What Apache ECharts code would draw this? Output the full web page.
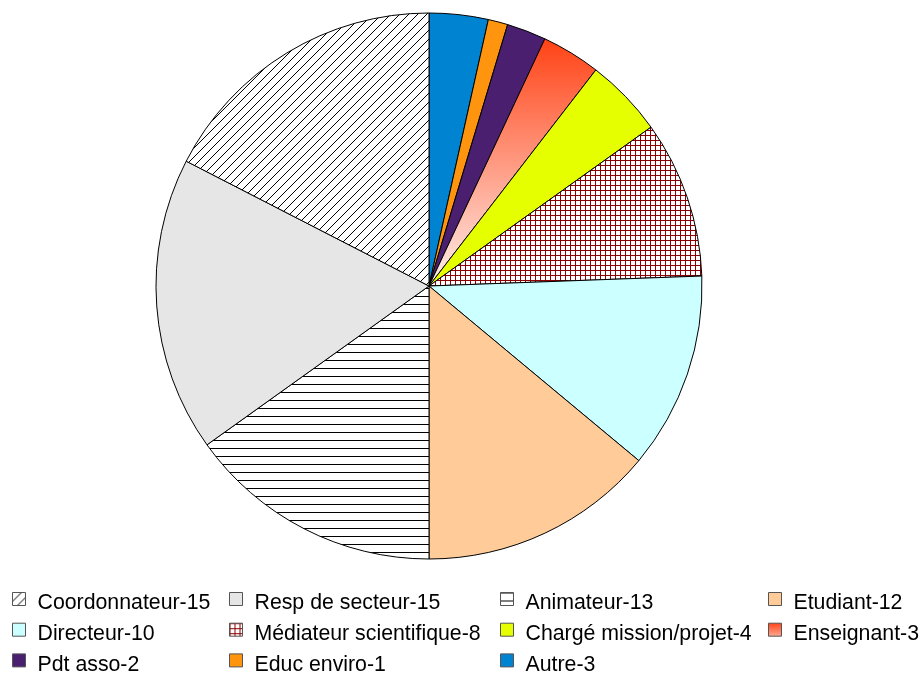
<!DOCTYPE html>
<html>
<head>
<meta charset="utf-8">
<script src="https://cdn.jsdelivr.net/npm/echarts@6/dist/echarts.min.js"></script>
<style>
html,body{margin:0;padding:0;background:#fff;}
#chart{width:921px;height:677px;}
</style>
</head>
<body>
<div id="chart"></div>
<script>
// Slices in clockwise order starting at 12 o'clock
var categories = ['Autre', 'Educ enviro', 'Pdt asso', 'Enseignant', 'Chargé mission/projet',
  'Médiateur scientifique', 'Directeur', 'Etudiant', 'Animateur', 'Resp de secteur', 'Coordonnateur'];
var values = [3, 1, 2, 3, 4, 8, 10, 12, 13, 15, 15];

// Legend rows (as in the reference, 4 columns)
var legendRow1 = ['Coordonnateur', 'Resp de secteur', 'Animateur', 'Etudiant'];
var legendRow2 = ['Directeur', 'Médiateur scientifique', 'Chargé mission/projet', 'Enseignant'];
var legendRow3 = ['Pdt asso', 'Educ enviro', 'Autre'];

function makePattern(w, h, draw) {
  var c = document.createElement('canvas');
  c.width = w; c.height = h;
  var ctx = c.getContext('2d');
  ctx.fillStyle = '#ffffff';
  ctx.fillRect(0, 0, w, h);
  draw(ctx, w, h);
  return { image: c, repeat: 'repeat' };
}
var diagPattern = makePattern(9, 9, function (ctx, w, h) {
  ctx.strokeStyle = '#000';
  ctx.lineWidth = 1;
  ctx.beginPath();
  ctx.moveTo(-1, h + 1); ctx.lineTo(w + 1, -1);
  ctx.moveTo(-1 - w, h + 1); ctx.lineTo(1, -1);
  ctx.moveTo(w - 1, 2 * h + 1); ctx.lineTo(2 * w + 1, h - 1);
  ctx.stroke();
});
var horizPattern = makePattern(8, 8, function (ctx, w, h) {
  ctx.fillStyle = '#000';
  ctx.fillRect(0, 0, w, 1);
});
var gridPattern = makePattern(5, 5, function (ctx, w, h) {
  ctx.fillStyle = '#8b0000';
  ctx.fillRect(0, 0, w, 1);
  ctx.fillRect(0, 0, 1, h);
});

var colors = {
  'Autre': '#0084d1',
  'Educ enviro': '#ff950e',
  'Pdt asso': '#4b1f6f',
  'Enseignant': { type: 'linear', x: 0, y: 0, x2: 0, y2: 1,
    colorStops: [{ offset: 0, color: '#ff4215' }, { offset: 1, color: '#fff0ec' }] },
  'Chargé mission/projet': '#e6ff00',
  'Médiateur scientifique': gridPattern,
  'Directeur': '#ccffff',
  'Etudiant': '#ffcc99',
  'Animateur': horizPattern,
  'Resp de secteur': '#e6e6e6',
  'Coordonnateur': diagPattern
};

var data = categories.map(function (c, i) {
  return { name: c, value: values[i], itemStyle: { color: colors[c] } };
});
function valueOf(name) { return values[categories.indexOf(name)]; }

var colLeft = [12, 229, 500, 768];
var rowTop = [592, 622.7, 653.4];

function legendItem(name, left, top) {
  return {
    data: [name],
    orient: 'horizontal',
    left: left,
    top: top,
    padding: 0,
    itemWidth: 13,
    itemHeight: 22,
    // square swatch sitting in the upper part of the item box
    icon: 'path://M0,0L13,0L13,13L0,13Z M0,22',
    selectedMode: false,
    formatter: function (n) { return n + '-' + valueOf(n); },
    itemStyle: { borderColor: '#555', borderWidth: 1 },
    textStyle: {
      fontFamily: 'Liberation Sans',
      fontSize: 21.3,
      lineHeight: 21,
      color: '#000',
      padding: [0, 0, 0, 7]
    }
  };
}
var legends = [];
[legendRow1, legendRow2, legendRow3].forEach(function (row, r) {
  row.forEach(function (n, c) { legends.push(legendItem(n, colLeft[c], rowTop[r])); });
});

var chart = echarts.init(document.getElementById('chart'), null, { renderer: 'canvas' });
chart.setOption({
  animation: false,
  backgroundColor: '#ffffff',
  legend: legends,
  series: [{
    type: 'pie',
    center: [429, 286],
    radius: 273,
    startAngle: 90,
    clockwise: true,
    label: { show: false },
    labelLine: { show: false },
    emphasis: { disabled: true },
    itemStyle: { borderColor: '#000', borderWidth: 1 },
    data: data
  }]
});
</script>
</body>
</html>
